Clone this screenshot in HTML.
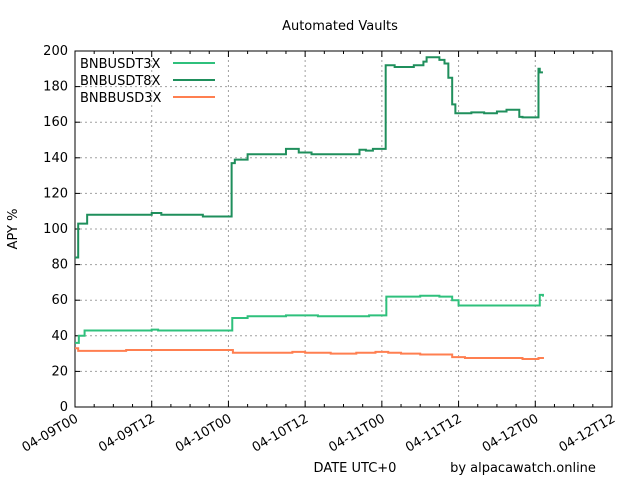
<!DOCTYPE html>
<html><head><meta charset="utf-8"><style>
html,body{margin:0;padding:0;background:#fff;}
svg{display:block;font-family:"DejaVu Sans","Liberation Sans",sans-serif;}
</style></head><body>
<svg id="chart" width="640" height="480" viewBox="0 0 640 480">
<text x="340" y="30" text-anchor="middle" font-size="13">Automated Vaults</text>
<text transform="translate(17,229) rotate(-90)" text-anchor="middle" font-size="13">APY %</text>
<text x="355" y="472" text-anchor="middle" font-size="13">DATE UTC+0</text>
<text x="523" y="472" text-anchor="middle" font-size="13">by alpacawatch.online</text>
<g id="grid"></g><g id="axes"></g><g id="series"></g>
<g id="legend">
<text x="80" y="68" font-size="13">BNBUSDT3X</text>
<line x1="173" y1="63" x2="215" y2="63" stroke="#2fc07c" stroke-width="2"/>
<text x="80" y="85" font-size="13">BNBUSDT8X</text>
<line x1="173" y1="80" x2="215" y2="80" stroke="#1f8f5c" stroke-width="2"/>
<text x="80" y="102" font-size="13">BNBBUSD3X</text>
<line x1="173" y1="97" x2="215" y2="97" stroke="#ff7f50" stroke-width="2"/>
</g>
</svg>
<script>
const xTickLabels=["04-09T00","04-09T12","04-10T00","04-10T12","04-11T00","04-11T12","04-12T00","04-12T12"];
const yTicks=[0,20,40,60,80,100,120,140,160,180,200];
const t8=[0,0.5,1.9,12,13.5,20,24.5,25,27,33,35,37,44.5,45.5,46.6,48.6,50,53,54.5,55,57,57.8,58.4,59,59.5,62,64,66,67.5,69.5,70,72.5,72.7,73.2];
const v8=[84,103,108,109,108,107,137,139,142,145,143,142,144.5,144,145,192,191,192,194,196.5,195,193,185,170,165,165.5,165,166,167,163,162.7,190,188,188];
const t3=[0,0.6,1.5,12,13,24.4,24.6,27,33,38,46,48.5,48.7,54,57,59,60,72.5,72.7,73.2];
const v3=[36,40,43,43.5,43,43,50,51,51.5,51,51.5,51.5,62,62.5,62,60,57,57,63,62];
const tb=[0,0.5,7,8,24,24.7,28,34,36,40,44,47,49,51,54,58,59,61,70,72.5,73.2];
const vb=[33,31.5,31.5,32,32,30.5,30.5,31,30.5,30,30.5,31,30.5,30,29.5,29.5,28,27.5,27,27.5,27];
const NS="http://www.w3.org/2000/svg";
const X0=75,X1=612,Y0=407,Y1=51,HMAX=84;
const xs=h=>X0+(X1-X0)*h/HMAX, ys=v=>Y0-(Y0-Y1)*v/200;
function mk(tag,attrs,parent){const e=document.createElementNS(NS,tag);for(const k in attrs)e.setAttribute(k,attrs[k]);parent.appendChild(e);return e;}
const grid=document.getElementById('grid'),axes=document.getElementById('axes'),ser=document.getElementById('series');
yTicks.forEach(v=>{
 if(v>0&&v<200){const g=mk('line',{x1:X0,x2:X1,y1:ys(v),y2:ys(v),stroke:'#a0a0a0','stroke-dasharray':'2,3'},grid);
 
 }
 const t=mk('text',{x:X0-7,y:ys(v)+4,'text-anchor':'end','font-size':13},axes);t.textContent=v;
 
 
 mk('line',{x1:X0,x2:X0+5,y1:ys(v),y2:ys(v),stroke:'#000'},axes);
 mk('line',{x1:X1,x2:X1-5,y1:ys(v),y2:ys(v),stroke:'#000'},axes);
});
xTickLabels.forEach((lab,i)=>{
 const x=xs(i*12);
 if(i>0&&i<xTickLabels.length-1){const g=mk('line',{x1:x,x2:x,y1:Y0,y2:Y1,stroke:'#a0a0a0','stroke-dasharray':'2,3'},grid);
 
 }
 mk('line',{x1:x,x2:x,y1:Y0,y2:Y0-6,stroke:'#000'},axes);
 mk('line',{x1:x,x2:x,y1:Y1,y2:Y1+6,stroke:'#000'},axes);
 const t=mk('text',{x:x+4,y:Y0+14,'text-anchor':'end','font-size':13,transform:`rotate(-30 ${x+4} ${Y0+14})`},axes);t.textContent=lab;
 
 
});
for(let h=3;h<HMAX;h+=3){if(h%12){const x=xs(h);mk('line',{x1:x,x2:x,y1:Y0,y2:Y0-3,stroke:'#000'},axes);mk('line',{x1:x,x2:x,y1:Y1,y2:Y1+3,stroke:'#000'},axes);}}
const fr=mk('rect',{x:X0,y:Y1,width:X1-X0,height:Y0-Y1,fill:'none',stroke:'#000'},axes);


function step(ts,vs,color,name){
 let d='M'+xs(ts[0])+','+ys(vs[0]);
 for(let i=1;i<ts.length;i++){d+=' H'+xs(ts[i])+' V'+ys(vs[i]);}
 const p=mk('path',{d:d,fill:'none',stroke:color,'stroke-width':2},ser);
 
 
}
step(t3,v3,'#2fc07c','series-bnbusdt3x');
step(tb,vb,'#ff7f50','series-bnbbusd3x');
step(t8,v8,'#1f8f5c','series-bnbusdt8x');
</script>
</body></html>
